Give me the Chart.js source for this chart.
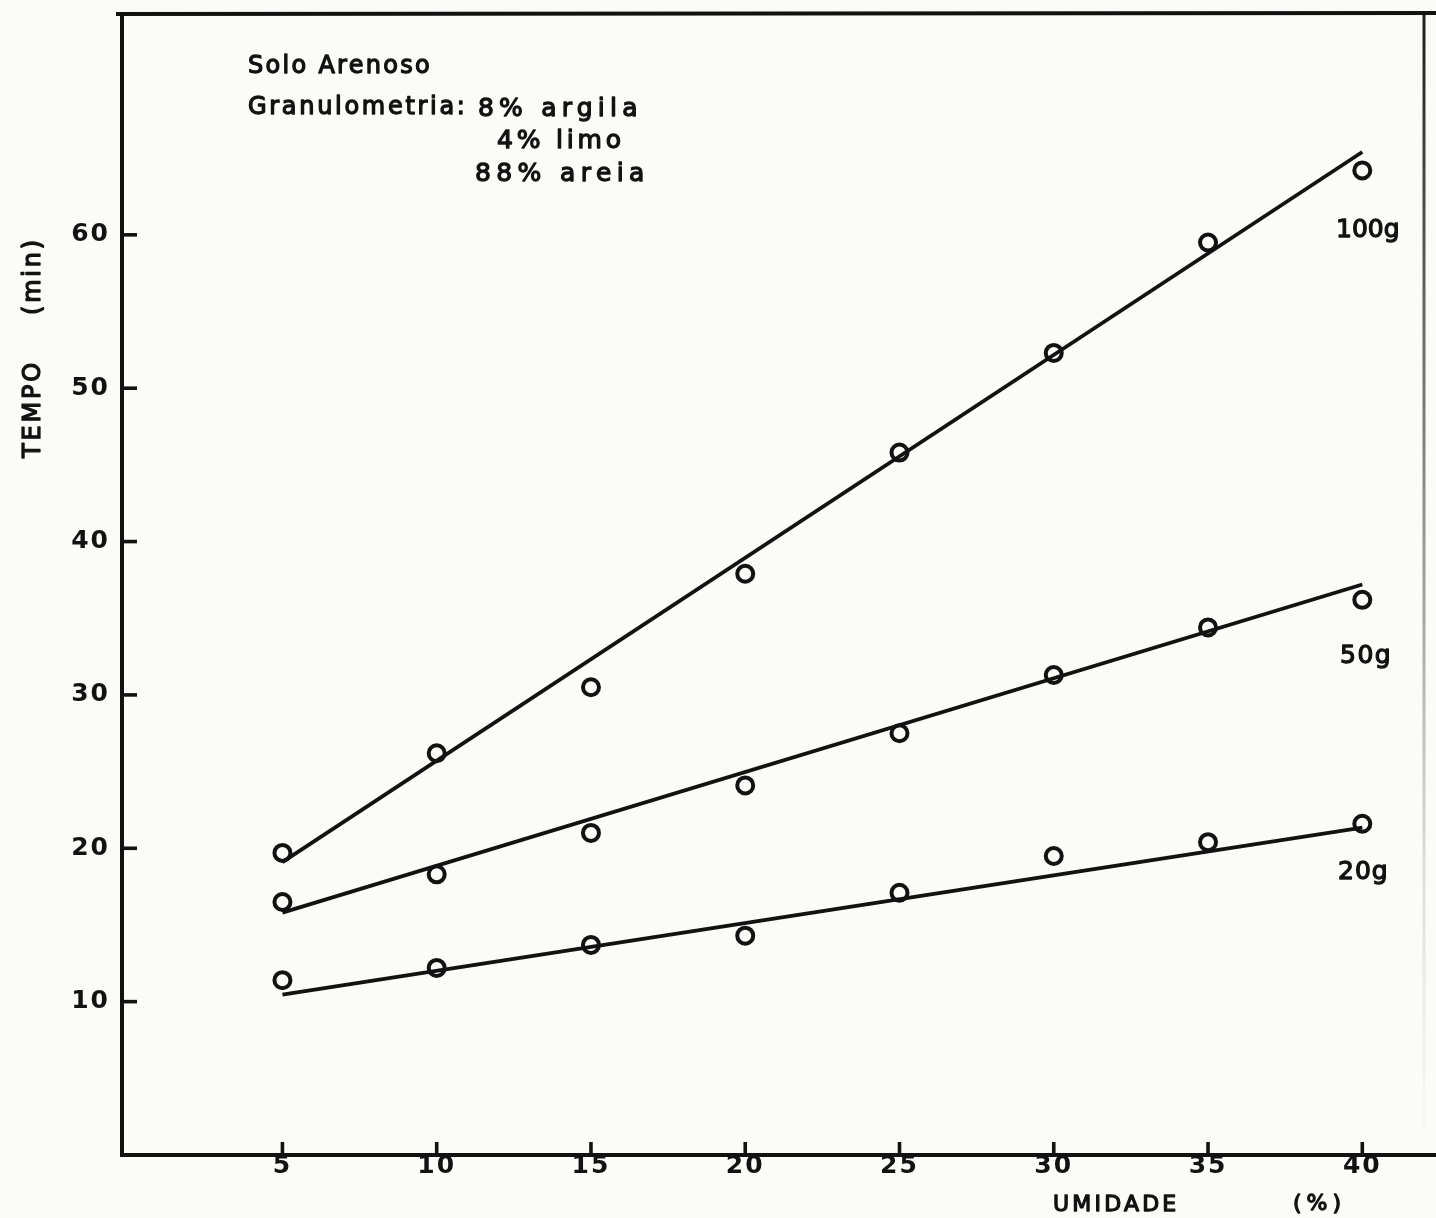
<!DOCTYPE html>
<html>
<head>
<meta charset="utf-8">
<title>Solo Arenoso – Tempo x Umidade</title>
<script src="https://cdn.jsdelivr.net/npm/chart.js@4.4.1/dist/chart.umd.min.js"></script>
<style>
  html, body { margin: 0; padding: 0; background: #fbfbf8; }
  #wrap { width: 1436px; height: 1218px; position: relative; }
</style>
</head>
<body>
<div id="wrap"><canvas id="chart"></canvas></div>
<script>
// Moisture content (%) of each test
const moisture = [5, 10, 15, 20, 25, 30, 35, 40];
// Measured times (min) for each sample mass
const time100g = [19.7, 26.2, 30.5, 37.9, 45.8, 52.3, 59.5, 64.2];
const time50g  = [16.5, 18.3, 21.0, 24.1, 27.5, 31.3, 34.4, 36.2];
const time20g  = [11.4, 12.2, 13.7, 14.3, 17.1, 19.5, 20.4, 21.6];
// Fitted straight lines: values at the ends of the moisture range
const fitX    = [5, 40];
const fit100g = [19.1, 65.4];
const fit50g  = [15.8, 37.2];
const fit20g  = [10.45, 21.35];
// Axis tick values
const xTicks = [5, 10, 15, 20, 25, 30, 35, 40];
const yTicks = [10, 20, 30, 40, 50, 60];

const INK = '#121212';
const FONT = '"DejaVu Sans", "Liberation Sans", sans-serif';

const pts = (xs, ys) => xs.map((x, i) => ({ x, y: ys[i] }));

const pointSet = (ys) => ({
  type: 'scatter',
  data: pts(moisture, ys),
  showLine: false,
  pointStyle: 'circle',
  pointRadius: 8,
  pointBorderWidth: 4,
  pointBorderColor: INK,
  pointBackgroundColor: 'rgba(0,0,0,0)',
  order: 1
});
const lineSet = (ys) => ({
  type: 'line',
  data: pts(fitX, ys),
  showLine: true,
  borderColor: INK,
  borderWidth: 3.8,
  pointRadius: 0,
  fill: false,
  order: 2
});

// lettering with a slightly heavier stroke
function letter(ctx, text, x, y, size, spacing) {
  ctx.font = size + 'px ' + FONT;
  ctx.letterSpacing = spacing + 'px';
  ctx.fillText(text, x, y);
  ctx.strokeText(text, x, y);
}

// Frame, inward tick marks and lettering
const decorations = {
  id: 'decorations',
  beforeDraw(chart) {
    chart.ctx.letterSpacing = '2px';
  },
  afterDraw(chart) {
    const { ctx, chartArea: a, scales: { x, y } } = chart;
    ctx.save();
    ctx.strokeStyle = INK;
    ctx.lineCap = 'butt';

    // top frame line
    ctx.lineWidth = 4;
    ctx.beginPath();
    ctx.moveTo(a.left - 6, a.top);
    ctx.lineTo(1436, a.top - 1);
    ctx.stroke();

    // right frame line, fading downward
    const g = ctx.createLinearGradient(0, a.top, 0, a.bottom);
    g.addColorStop(0, 'rgba(18,18,18,0.95)');
    g.addColorStop(0.3, 'rgba(18,18,18,0.6)');
    g.addColorStop(0.75, 'rgba(18,18,18,0.12)');
    g.addColorStop(1, 'rgba(18,18,18,0)');
    ctx.strokeStyle = g;
    ctx.lineWidth = 3;
    ctx.beginPath();
    ctx.moveTo(a.right, a.top);
    ctx.lineTo(a.right, a.bottom);
    ctx.stroke();

    // x axis runs to the page edge
    ctx.strokeStyle = INK;
    ctx.lineWidth = 4;
    ctx.beginPath();
    ctx.moveTo(a.right - 2, a.bottom);
    ctx.lineTo(1436, a.bottom);
    ctx.stroke();

    // inward ticks
    ctx.lineWidth = 3.6;
    yTicks.forEach(v => {
      const py = y.getPixelForValue(v);
      ctx.beginPath();
      ctx.moveTo(a.left, py);
      ctx.lineTo(a.left + 15, py);
      ctx.stroke();
    });
    xTicks.forEach(v => {
      const px = x.getPixelForValue(v);
      ctx.beginPath();
      ctx.moveTo(px, a.bottom);
      ctx.lineTo(px, a.bottom - 13);
      ctx.stroke();
    });

    ctx.fillStyle = INK;
    ctx.strokeStyle = INK;
    ctx.lineWidth = 1.3;
    ctx.lineJoin = 'round';
    ctx.textBaseline = 'middle';
    ctx.textAlign = 'left';

    // sample description
    letter(ctx, 'Solo Arenoso', 248, 67, 24, 2.3);
    letter(ctx, 'Granulometria:', 248, 108, 24, 2.7);
    letter(ctx, '8% argila', 478, 109, 25, 5.2);
    letter(ctx, '4% limo', 497, 141, 25, 3.8);
    letter(ctx, '88% areia', 475, 174, 25, 5.4);

    // series labels
    letter(ctx, '100g', 1336, 230, 25, 0);
    letter(ctx, '50g', 1340, 656, 25, 1.5);
    letter(ctx, '20g', 1338, 872, 25, 1);

    // axis titles
    letter(ctx, 'UMIDADE', 1053, 1205, 22, 3.2);
    letter(ctx, '(%)', 1293, 1204, 22, 5);

    ctx.save();
    ctx.translate(34, 458);
    ctx.rotate(-Math.PI / 2);
    letter(ctx, 'TEMPO', 0, 0, 24, 2.8);
    letter(ctx, '(min)', 143, 0, 24, 2.8);
    ctx.restore();

    ctx.restore();
    ctx.letterSpacing = '0px';
  }
};

new Chart(document.getElementById('chart'), {
  data: {
    datasets: [
      lineSet(fit100g), lineSet(fit50g), lineSet(fit20g),
      pointSet(time100g), pointSet(time50g), pointSet(time20g)
    ]
  },
  options: {
    responsive: true,
    maintainAspectRatio: false,
    animation: false,
    events: [],
    layout: { padding: { top: 14, right: 4, bottom: 0, left: 0 } },
    plugins: { legend: { display: false }, tooltip: { enabled: false } },
    scales: {
      x: {
        type: 'linear',
        min: -0.2,
        max: 42,
        afterFit(s) { s.height = 63; s.paddingLeft = 0; s.paddingRight = 0; },
        afterBuildTicks(s) { s.ticks = xTicks.map(v => ({ value: v })); },
        grid: { display: false, drawTicks: false },
        border: { display: true, color: INK, width: 4 },
        ticks: {
          color: INK,
          padding: -1,
          font: { family: FONT, size: 25, weight: 'bold', lineHeight: 1 },
          maxRotation: 0,
          autoSkip: false
        }
      },
      y: {
        type: 'linear',
        min: 0,
        max: 74.4,
        afterFit(s) { s.width = 122; s.paddingTop = 0; s.paddingBottom = 0; },
        afterBuildTicks(s) { s.ticks = yTicks.map(v => ({ value: v })); },
        grid: { display: false, drawTicks: false },
        border: { display: true, color: INK, width: 4 },
        ticks: {
          color: INK,
          padding: 12,
          font: { family: FONT, size: 25, weight: 'bold', lineHeight: 1 },
          autoSkip: false
        }
      }
    }
  },
  plugins: [decorations]
});
</script>
</body>
</html>
